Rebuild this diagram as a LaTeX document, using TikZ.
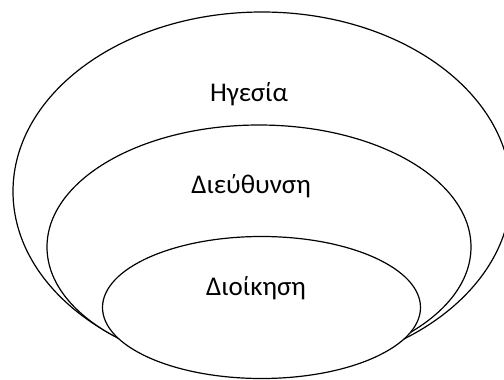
\documentclass[tikz,border=0pt]{standalone}
\usepackage{fontspec}
\setmainfont{Carlito}
\tikzset{
  ring/.style={draw=black, line width=1.2pt, fill=white},
  tier/.style={anchor=base, inner sep=0pt, font=\fontsize{27}{32}\selectfont}
}
\begin{document}
\begin{tikzpicture}[x=1pt, y=-1pt]
  \useasboundingbox (0,0) rectangle (504,380);
  \clip (0,0) rectangle (504,380);
  % nested levels, outermost first so inner ones sit on top
  \draw[ring] (262,191.5) ellipse [x radius=249, y radius=179.5];
  \draw[ring] (259,247) ellipse [x radius=212, y radius=122];
  \draw[ring] (261.5,307.5) ellipse [x radius=159, y radius=71];
  % level labels
  \node[tier] (lead) at (249,101) {Ηγεσία};
  \node[tier] (direct) at (251,193) {Διεύθυνση};
  \node[tier] (admin) at (256,295) {Διοίκηση};
\end{tikzpicture}
\end{document}
